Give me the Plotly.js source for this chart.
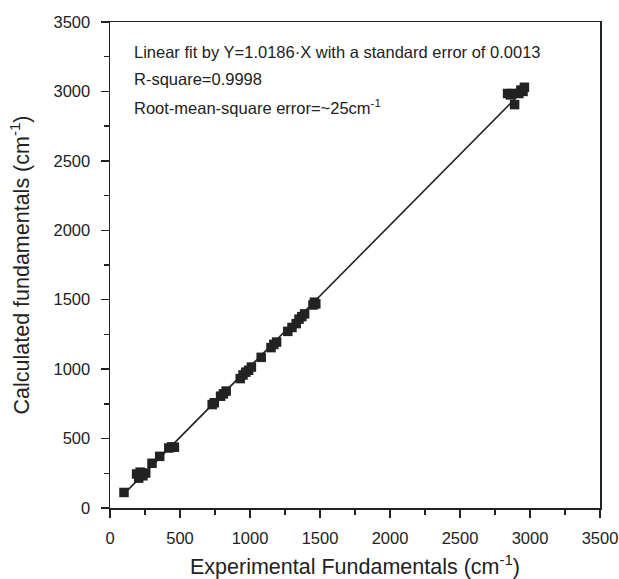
<!DOCTYPE html>
<html>
<head>
<meta charset="utf-8">
<script src="https://cdn.plot.ly/plotly-3.0.1.min.js"></script>
<style>html,body{margin:0;padding:0;background:#fff;}#chart{width:619px;height:579px;}</style>
</head>
<body>
<div id="chart"></div>
<script>
// Experimental vs calculated fundamentals (cm^-1)
const experimental = [100, 190, 205, 215, 235, 255, 300, 355, 420, 440, 460,
  730, 745, 790, 810, 830, 930, 950, 970, 990, 1010, 1080, 1150, 1170, 1190,
  1270, 1300, 1330, 1350, 1370, 1390, 1450, 1460, 1470,
  2840, 2860, 2870, 2890, 2920, 2935, 2950, 2960];
const calculated = [112, 245, 215, 258, 232, 252, 322, 372, 432, 440, 438,
  745, 758, 805, 822, 842, 932, 958, 978, 992, 1015, 1085, 1155, 1178, 1195,
  1272, 1300, 1328, 1360, 1378, 1398, 1462, 1482, 1470,
  2985, 2975, 2985, 2905, 2985, 3010, 3000, 3030];
const fitSlope = 1.0186;
const fitX = [100, 2960];
const fitY = fitX.map(v => v * fitSlope);
const annotationLines = [
  'Linear fit by Y=1.0186·X with a standard error of 0.0013',
  'R-square=0.9998',
  'Root-mean-square error=~25cm<sup>-1</sup>'
];

const ink = '#222';
const fam = 'Liberation Sans, Arial, sans-serif';
const traces = [
  {x: fitX, y: fitY, mode: 'lines', line: {color: ink, width: 1.6}, hoverinfo: 'skip', showlegend: false},
  {x: experimental, y: calculated, mode: 'markers', marker: {symbol: 'square', size: 9.5, color: ink}, showlegend: false}
];

const axisCommon = {
  range: [0, 3500], dtick: 500, tick0: 0,
  showgrid: false, zeroline: false,
  showline: true, linecolor: ink, linewidth: 1.5, mirror: true,
  ticks: 'outside', ticklen: 8, tickwidth: 1.3, tickcolor: ink,
  ticklabelstandoff: 7, ticklabeloverflow: 'allow',
  tickfont: {family: fam, size: 16.5, color: ink},
  minor: {dtick: 250, ticks: 'outside', ticklen: 5, tickwidth: 1.3, tickcolor: ink, showgrid: false}
};

const layout = {
  width: 619, height: 579,
  margin: {l: 110, r: 19, t: 22, b: 71},
  paper_bgcolor: '#fff', plot_bgcolor: '#fff',
  font: {family: fam, color: ink},
  xaxis: Object.assign({}, axisCommon, {
    title: {text: 'Experimental Fundamentals (cm<sup>-1</sup>)', font: {size: 21.5, color: ink, family: fam}, standoff: 12}
  }),
  yaxis: Object.assign({}, axisCommon, {
    title: {text: 'Calculated fundamentals (cm<sup>-1</sup>)', font: {size: 21.5, color: ink, family: fam}, standoff: 18}
  }),
  annotations: annotationLines.map((t, i) => ({
    text: t, xref: 'paper', yref: 'paper', x: 0.044, y: 0.939 - i * 0.0565,
    xanchor: 'left', yanchor: 'middle', showarrow: false,
    font: {size: 16.5, color: ink, family: fam}
  }))
};

Plotly.newPlot('chart', traces, layout, {displayModeBar: false, staticPlot: true});
</script>
</body>
</html>
